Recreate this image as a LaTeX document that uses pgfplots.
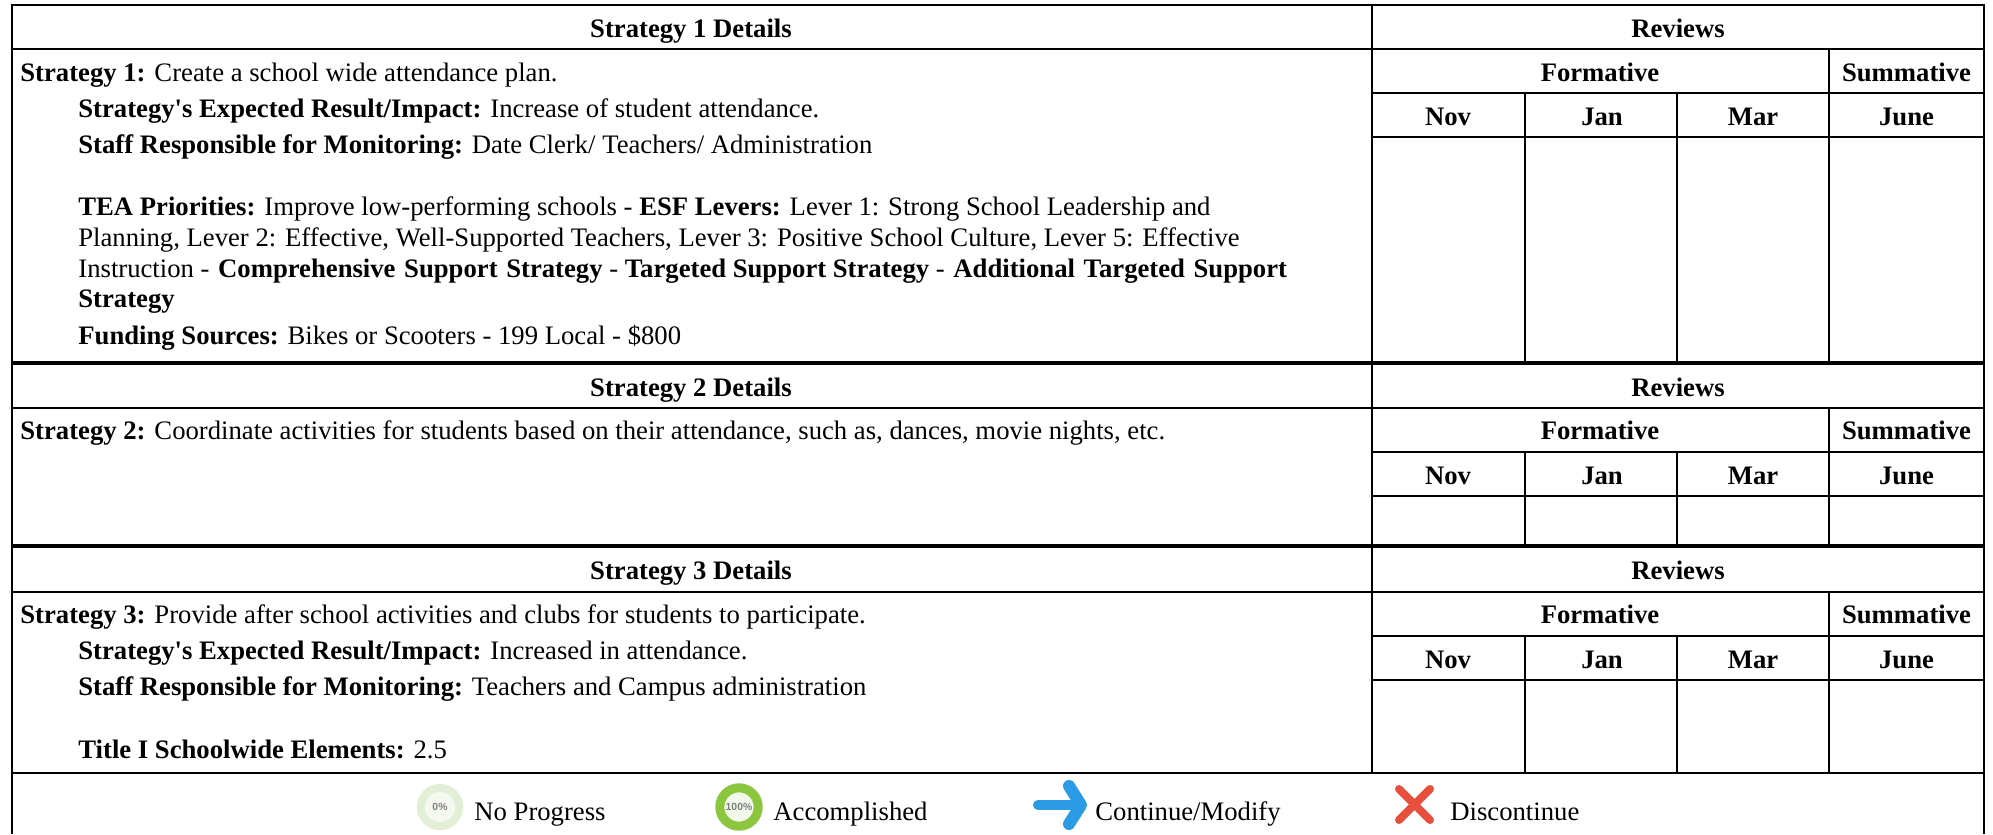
\documentclass[border=0pt]{standalone}
\usepackage{pgfplots}
\pgfplotsset{compat=1.18}
\usepackage{fontspec}
\setmainfont{Liberation Serif}
\newfontfamily\aposfont{Liberation Serif}
\newfontfamily\iconfont{Liberation Sans}
\definecolor{ringA}{HTML}{E3EED6}
\definecolor{inA}{HTML}{F4F8EF}
\definecolor{ringB}{HTML}{8CC63F}
\definecolor{inB}{HTML}{F2F8EA}
\definecolor{arrowB}{HTML}{2B9BE6}
\definecolor{crossR}{HTML}{E94F3D}
\newcommand{\hl}[3]{\addplot[black,line width=1pt,forget plot] coordinates {(#1,#3) (#2,#3)};}
\newcommand{\hL}[3]{\addplot[black,line width=1.8pt,forget plot] coordinates {(#1,#3) (#2,#3)};}
\newcommand{\vl}[3]{\addplot[black,line width=1pt,forget plot] coordinates {(#1,#2) (#1,#3)};}
\newcommand{\tw}[3]{\node[anchor=base west,inner sep=0pt] at (axis cs:#1,#2) {#3};}
\newcommand{\tc}[3]{\node[anchor=base,inner sep=0pt] at (axis cs:#1,#2) {\bfseries #3};}
\newcommand{\apos}{{\aposfont '}}
\begin{document}
\begin{tikzpicture}
\begin{axis}[hide axis,scale only axis,width=996.5pt,height=417.5pt,xmin=0,xmax=1993,ymin=0,ymax=835,y dir=reverse,clip=false]
\fontsize{13.34}{15}\selectfont
\addplot[draw=none,line width=0pt,forget plot] coordinates {(0,0) (1993,835)};
% outer frame and horizontal rules
\hl{11}{1985}{5}
\hl{11}{1985}{49}
\hl{1372}{1985}{93}
\hl{1372}{1985}{137}
\hL{11}{1985}{363}
\hl{11}{1985}{408}
\hl{1372}{1985}{452}
\hl{1372}{1985}{496}
\hL{11}{1985}{546}
\hl{11}{1985}{592}
\hl{1372}{1985}{636}
\hl{1372}{1985}{680}
\hl{11}{1985}{773}
% verticals
\vl{12}{5}{834}
\vl{1984}{5}{834}
\vl{1372}{5}{773}
\vl{1829}{49}{137}
\vl{1525}{93}{363}\vl{1677}{93}{363}\vl{1829}{93}{363}
\vl{1829}{408}{496}
\vl{1525}{452}{546}\vl{1677}{452}{546}\vl{1829}{496}{546}
\vl{1829}{592}{680}
\vl{1525}{636}{773}\vl{1677}{636}{773}\vl{1829}{636}{773}
% headers
\tc{691}{37}{Strategy 1 Details}
\tc{691}{396}{Strategy 2 Details}
\tc{691}{579}{Strategy 3 Details}
\foreach \d in {37,396,579}{\edef\tmp{\noexpand\tc{1678}{\d}{Reviews}}\tmp}
\foreach \d in {81,439,623}{\edef\tmp{\noexpand\tc{1600}{\d}{Formative}\noexpand\tc{1906.5}{\d}{Summative}}\tmp}
\foreach \d in {125,484,668}{\edef\tmp{\noexpand\tc{1448}{\d}{Nov}\noexpand\tc{1602}{\d}{Jan}\noexpand\tc{1753}{\d}{Mar}\noexpand\tc{1906.5}{\d}{June}}\tmp}
% strategy 1
\tw{20}{81}{\textbf{Strategy 1:} Create a school wide attendance plan.}
\tw{78}{117}{\textbf{Strategy\apos s Expected Result/Impact:} Increase of student attendance.}
\tw{78}{153}{\textbf{Staff Responsible for Monitoring:} Date Clerk/ Teachers/ Administration}
\tw{78}{215}{\textbf{TEA Priorities:} Improve low-performing schools - \textbf{ESF Levers:} Lever 1: Strong School Leadership and}
\tw{78}{246}{Planning, Lever 2: Effective, Well-Supported Teachers, Lever 3: Positive School Culture, Lever 5: Effective}
\tw{78}{277}{Instruction - \hspace{1pt}\textbf{Comprehensive\hspace{1pt} Support\hspace{1pt} Strategy} - \textbf{Targeted Support Strategy} - \hspace{1pt}\textbf{Additional\hspace{1pt} Targeted\hspace{1pt} Support}}
\tw{78}{307}{\textbf{Strategy}}
\tw{78}{344}{\textbf{Funding Sources:} Bikes or Scooters - 199 Local - \$800}
% strategy 2
\tw{20}{439}{\textbf{Strategy 2:} Coordinate activities for students based on their attendance, such as, dances, movie nights, etc.}
% strategy 3
\tw{20}{623}{\textbf{Strategy 3:} Provide after school activities and clubs for students to participate.}
\tw{78}{659}{\textbf{Strategy\apos s Expected Result/Impact:} Increased in attendance.}
\tw{78}{695}{\textbf{Staff Responsible for Monitoring:} Teachers and Campus administration}
\tw{78}{758}{\textbf{Title I Schoolwide Elements:} 2.5}
% legend
\addplot[only marks,mark=*,mark size=9.6pt,mark options={draw=ringA,fill=inA,line width=4pt},nodes near coords={0\%},nodes near coords align={center},every node near coord/.append style={anchor=center,inner sep=0pt,text=gray,font=\fontsize{5.2}{6}\iconfont\bfseries\selectfont},forget plot] coordinates {(440,807)};
\addplot[only marks,mark=*,mark size=9.6pt,mark options={draw=ringB,fill=inB,line width=4.5pt},nodes near coords={100\%},nodes near coords align={center},every node near coord/.append style={anchor=center,inner sep=0pt,text=gray,font=\fontsize{5.2}{6}\iconfont\bfseries\selectfont},forget plot] coordinates {(739,807)};
\addplot[arrowB,line width=5pt,line cap=round,forget plot] coordinates {(1038,805) (1080,805)};
\addplot[arrowB,line width=6pt,line cap=round,line join=round,forget plot] coordinates {(1069,786) (1081,805) (1069,824)};
\addplot[crossR,line width=4pt,line cap=round,forget plot] coordinates {(1399,789) (1430,820)};
\addplot[crossR,line width=4pt,line cap=round,forget plot] coordinates {(1430,789) (1399,820)};
\tw{474}{820}{No Progress}
\tw{773}{820}{Accomplished}
\tw{1095}{820}{Continue/Modify}
\tw{1450}{820}{Discontinue}
\end{axis}
\end{tikzpicture}
\end{document}
